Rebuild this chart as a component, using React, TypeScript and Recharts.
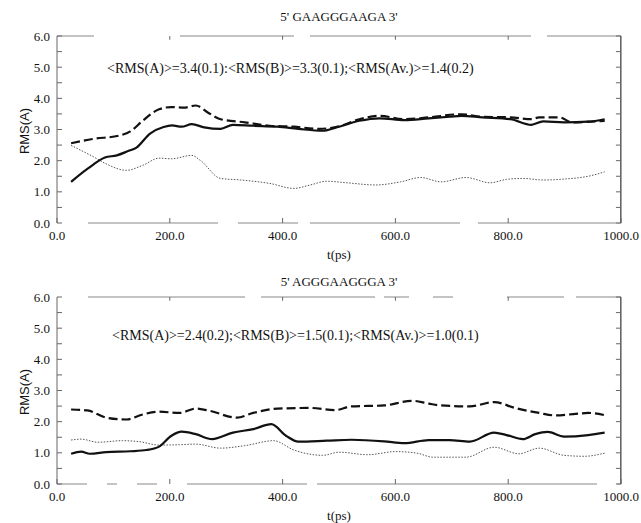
import { Line, LineChart, ReferenceLine, XAxis, YAxis } from 'recharts';

const xTicks = [0, 200, 400, 600, 800, 1000];
const yTicks = [0, 0.5, 1, 1.5, 2, 2.5, 3, 3.5, 4, 4.5, 5, 5.5, 6];

// 5' GAAGGGAAGA 3'
const gaSolidT = [25, 55, 85, 106, 125, 141, 165, 189, 204, 221, 239, 261, 290, 312, 348, 391, 428, 471, 500, 536, 572, 616, 659, 696, 717, 754, 804, 841, 862, 899, 942, 971];
const gaSolidV = [1.32, 1.75, 2.1, 2.17, 2.3, 2.42, 2.87, 3.08, 3.13, 3.09, 3.17, 3.07, 3.02, 3.15, 3.12, 3.09, 3.02, 2.96, 3.09, 3.28, 3.36, 3.3, 3.36, 3.41, 3.44, 3.39, 3.33, 3.15, 3.26, 3.23, 3.25, 3.33];
const gaDashT = [25, 65, 109, 130, 152, 181, 203, 225, 246, 268, 290, 333, 377, 420, 464, 500, 536, 572, 616, 659, 717, 754, 804, 841, 855, 891, 913, 971];
const gaDashV = [2.56, 2.7, 2.8, 2.94, 3.28, 3.65, 3.72, 3.7, 3.77, 3.54, 3.33, 3.23, 3.12, 3.09, 3.02, 3.1, 3.33, 3.44, 3.33, 3.39, 3.49, 3.41, 3.39, 3.33, 3.39, 3.39, 3.23, 3.28];
const gaDotT = [25, 65, 87, 123, 152, 181, 203, 239, 254, 290, 326, 377, 420, 449, 478, 514, 565, 609, 645, 681, 725, 768, 797, 826, 862, 899, 942, 971];
const gaDotV = [2.49, 2.12, 1.9, 1.69, 1.85, 2.08, 2.06, 2.17, 2.01, 1.43, 1.38, 1.27, 1.11, 1.22, 1.34, 1.29, 1.22, 1.32, 1.46, 1.32, 1.46, 1.29, 1.4, 1.43, 1.38, 1.41, 1.5, 1.64];

// 5' AGGGAAGGGA 3'
const agSolidT = [25, 43, 58, 87, 130, 159, 181, 203, 221, 246, 275, 312, 348, 380, 406, 428, 478, 522, 580, 616, 659, 696, 732, 775, 797, 826, 848, 870, 899, 942, 971];
const agSolidV = [0.97, 1.04, 0.97, 1.02, 1.05, 1.09, 1.2, 1.55, 1.68, 1.6, 1.44, 1.65, 1.76, 1.92, 1.55, 1.36, 1.39, 1.42, 1.37, 1.31, 1.41, 1.41, 1.36, 1.65, 1.57, 1.44, 1.6, 1.67, 1.52, 1.57, 1.65];
const agDashT = [25, 54, 87, 123, 152, 181, 217, 246, 268, 319, 348, 391, 449, 493, 522, 580, 630, 659, 681, 732, 775, 812, 855, 884, 920, 942, 971];
const agDashV = [2.39, 2.36, 2.13, 2.07, 2.23, 2.32, 2.28, 2.42, 2.36, 2.13, 2.28, 2.42, 2.44, 2.37, 2.49, 2.52, 2.67, 2.58, 2.52, 2.49, 2.63, 2.44, 2.28, 2.2, 2.25, 2.28, 2.21];
const agDotT = [25, 43, 72, 116, 145, 181, 217, 246, 290, 333, 384, 420, 471, 500, 551, 601, 638, 667, 725, 775, 819, 855, 899, 935, 971];
const agDotV = [1.41, 1.44, 1.34, 1.39, 1.36, 1.25, 1.26, 1.28, 1.15, 1.23, 1.39, 1.09, 0.92, 1.02, 0.94, 1.04, 0.99, 0.86, 0.86, 1.18, 0.97, 1.15, 0.92, 0.89, 0.99];

const zip = (t: number[], v: number[]) => t.map((x, i) => ({ t: x, v: v[i] }));

const serif = 'serif';
const sans = 'Liberation Sans, Arial, sans-serif';
const frame = '#666';

const PLOT_LEFT = 57;
const PLOT_RIGHT = 621;
const PLOT_TOP = 36;
const PLOT_BOTTOM = 223;
const H = 262;

interface PanelProps {
  top: number;
  title: string;
  titleY: number;
  note: string;
  noteX: number;
  noteY: number;
  solid: { t: number; v: number }[];
  dashed: { t: number; v: number }[];
  dotted: { t: number; v: number }[];
  topDash: string;
  bottomDash: string;
}

function Panel(p: PanelProps) {
  const yFmt = (v: number) => (Number.isInteger(v) ? v.toFixed(1) : '');
  const centered = (x: number, y: number, extra = {}) => ({
    position: 'absolute' as const,
    left: x,
    top: y,
    transform: 'translate(-50%, -50%)',
    whiteSpace: 'nowrap' as const,
    fontFamily: serif,
    fontSize: 13,
    lineHeight: 1,
    color: '#111',
    ...extra,
  });
  return (
    <div style={{ position: 'absolute', left: 0, top: p.top, width: 641, height: H }}>
      <LineChart
        width={641}
        height={H}
        margin={{ top: PLOT_TOP, right: 641 - PLOT_RIGHT, left: 0, bottom: 0 }}
      >
        <XAxis
          type="number"
          dataKey="t"
          domain={[0, 1000]}
          ticks={xTicks}
          height={H - PLOT_BOTTOM}
          tickFormatter={(v: number) => v.toFixed(1)}
          tickSize={-5}
          tickMargin={13}
          tickLine={{ stroke: frame }}
          axisLine={{ stroke: '#888', strokeDasharray: p.bottomDash }}
          tick={{ fill: '#111', fontSize: 13, fontFamily: serif }}
        />
        <YAxis
          type="number"
          domain={[0, 6]}
          ticks={yTicks}
          width={PLOT_LEFT}
          tickFormatter={yFmt}
          tickSize={-5}
          tickMargin={12}
          tickLine={{ stroke: frame }}
          axisLine={{ stroke: frame }}
          tick={{ fill: '#111', fontSize: 13, fontFamily: serif }}
        />
        {/* frame: top edge, right edge and inward ticks */}
        <ReferenceLine y={6} stroke="#888" strokeDasharray={p.topDash} />
        <ReferenceLine x={1000} stroke={frame} strokeWidth={1.2} />
        {yTicks.map((v) => (
          <ReferenceLine
            key={`r${v}`}
            segment={[{ x: 991, y: v }, { x: 1000, y: v }]}
            stroke={frame}
          />
        ))}
        {xTicks.slice(1, -1).map((t) => (
          <ReferenceLine
            key={`t${t}`}
            segment={[{ x: t, y: 6 }, { x: t, y: 5.88 }]}
            stroke={frame}
          />
        ))}
        <Line
          data={p.dotted}
          dataKey="v"
          type="monotone"
          stroke="#555"
          strokeWidth={1}
          strokeDasharray="1.5 1.5"
          dot={false}
          isAnimationActive={false}
        />
        <Line
          data={p.dashed}
          dataKey="v"
          type="monotone"
          stroke="#111"
          strokeWidth={2.2}
          strokeDasharray="9 4"
          dot={false}
          isAnimationActive={false}
        />
        <Line
          data={p.solid}
          dataKey="v"
          type="monotone"
          stroke="#111"
          strokeWidth={2.2}
          dot={false}
          isAnimationActive={false}
        />
      </LineChart>
      {/* right border of the frame */}
      <div
        style={{
          position: 'absolute',
          left: PLOT_RIGHT - 1,
          top: PLOT_TOP,
          width: 1,
          height: PLOT_BOTTOM - PLOT_TOP,
          background: frame,
        }}
      />
      <div style={centered(339, p.titleY)}>{p.title}</div>
      <div style={{ ...centered(p.noteX, p.noteY, { fontSize: 14 }), transform: 'translate(0, -50%)' }}>{p.note}</div>
      <div style={centered(339, 254)}>t(ps)</div>
      <div style={centered(24, 131, { fontFamily: sans, transform: 'translate(-50%, -50%) rotate(-90deg)' })}>
        RMS(A)
      </div>
    </div>
  );
}

export default function App() {
  return (
    <div style={{ position: 'absolute', left: 0, top: 0, width: 641, height: 523, background: '#fff' }}>
      <Panel
        top={0}
        title="5' GAAGGGAAGA 3'"
        titleY={16}
        note="<RMS(A)>=3.4(0.1):<RMS(B)>=3.3(0.1);<RMS(Av.)>=1.4(0.2)"
        noteX={107}
        noteY={69}
        solid={zip(gaSolidT, gaSolidV)}
        dashed={zip(gaDashT, gaDashV)}
        dotted={zip(gaDotT, gaDotV)}
        topDash="37 86 114 16 221 16 74"
        bottomDash="0 31 130 20 60 12 150 18 143"
      />
      <Panel
        top={261}
        title="5' AGGGAAGGGA 3'"
        titleY={20}
        note="<RMS(A)>=2.4(0.2);<RMS(B)>=1.5(0.1);<RMS(Av.)>=1.0(0.1)"
        noteX={112}
        noteY={75}
        solid={zip(agSolidT, agSolidV)}
        dashed={zip(agDashT, agDashV)}
        dotted={zip(agDotT, agDotV)}
        topDash="0 31 157 16 114 9 25 24 20 54 57 12 45"
        bottomDash="30 20 10 20 20 30 120 10 280 20 30"
      />
    </div>
  );
}
